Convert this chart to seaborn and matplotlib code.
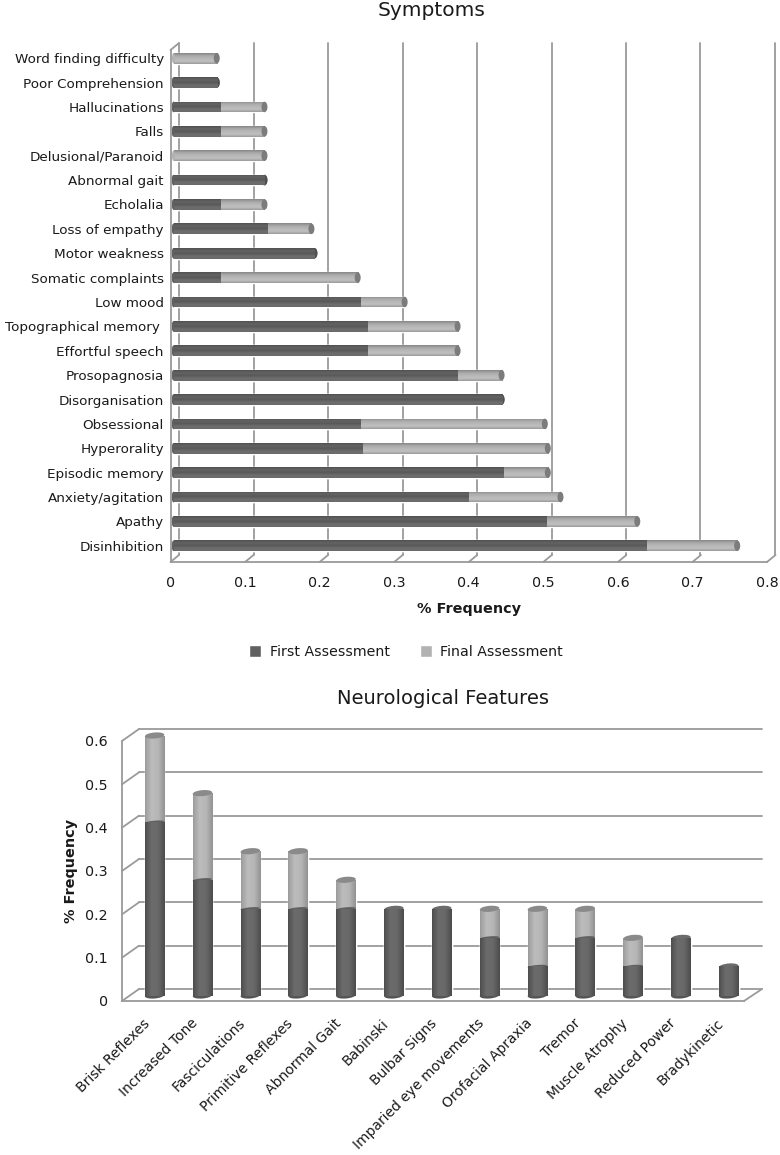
import numpy as np
import pandas as pd
import matplotlib
matplotlib.use("Agg")
import matplotlib.pyplot as plt
import seaborn as sns
from matplotlib.colors import LinearSegmentedColormap
from matplotlib.patches import Ellipse
from matplotlib.transforms import Affine2D, IdentityTransform

# symptoms, top to bottom
symptoms = ["Word finding difficulty", "Poor Comprehension", "Hallucinations", "Falls",
            "Delusional/Paranoid", "Abnormal gait", "Echolalia", "Loss of empathy",
            "Motor weakness", "Somatic complaints", "Low mood", "Topographical memory ",
            "Effortful speech", "Prosopagnosia", "Disorganisation", "Obsessional",
            "Hyperorality", "Episodic memory", "Anxiety/agitation", "Apathy", "Disinhibition"]
symptoms_first = [0, 0.058, 0.0625, 0.0625, 0, 0.122, 0.0625, 0.125, 0.189, 0.0625, 0.25,
                  0.259, 0.259, 0.38, 0.44, 0.25, 0.253, 0.442, 0.395, 0.5, 0.634]
symptoms_total = [0.058, 0.058, 0.122, 0.122, 0.122, 0.122, 0.122, 0.185, 0.189, 0.247, 0.31,
                  0.381, 0.381, 0.44, 0.44, 0.498, 0.502, 0.502, 0.519, 0.622, 0.756]

# neurological features, left to right
features = ["Brisk Reflexes", "Increased Tone", "Fasciculations", "Primitive Reflexes",
            "Abnormal Gait", "Babinski", "Bulbar Signs", "Imparied eye movements",
            "Orofacial Apraxia", "Tremor", "Muscle Atrophy", "Reduced Power", "Bradykinetic"]
features_first = [0.4, 0.267, 0.2, 0.2, 0.2, 0.2, 0.2, 0.133, 0.067, 0.133, 0.067, 0.133, 0.067]
features_total = [0.6, 0.467, 0.333, 0.333, 0.267, 0.2, 0.2, 0.2, 0.2, 0.2, 0.133, 0.133, 0.067]

series_names = ["First Assessment", "Final Assessment"]
symptom_ticks = [0, 0.1, 0.2, 0.3, 0.4, 0.5, 0.6, 0.7, 0.8]
feature_ticks = [0, 0.1, 0.2, 0.3, 0.4, 0.5, 0.6]

W, H = 780, 1155
DARK, LIGHT = "#606060", "#b2b2b2"
LINE = "#9a9a9a"
TEXT = "#1a1a1a"

sns.set_theme(style="white", rc={"axes.facecolor": "none", "figure.facecolor": "white"})
plt.rcParams["font.family"] = ["DejaVu Sans"]

dark_cmap = LinearSegmentedColormap.from_list("dark", ["#6a6a6a", "#6e6e6e", "#585858", "#646464", "#505050"])
light_cmap = LinearSegmentedColormap.from_list("light", ["#9a9a9a", "#c0c0c0", "#b8b8b8", "#aaaaaa", "#868686"])
dark_cyl = LinearSegmentedColormap.from_list("dark_cyl", ["#4e4e4e", "#6c6c6c", "#686868", "#4c4c4c"])
light_cyl = LinearSegmentedColormap.from_list("light_cyl", ["#9c9c9c", "#bcbcbc", "#b6b6b6", "#929292"])

fig = plt.figure(figsize=(W / 100, H / 100), dpi=100)


def px_axes(left, top, right, bottom):
    # axes placed by pixel box of the picture
    ax = fig.add_axes([left / W, 1 - bottom / H, (right - left) / W, (bottom - top) / H])
    ax.patch.set_visible(False)
    return ax


def clean(ax, keep=()):
    for name, spine in ax.spines.items():
        spine.set_visible(name in keep)
        spine.set_color(LINE)
        spine.set_linewidth(1.3)


def cap(ax, x, y, w, h, color, angle=0, z=5):
    xy = ax.transData.transform((x, y))
    ax.add_patch(Ellipse(xy, w, h, angle=angle, color=color, lw=0, zorder=z,
                         transform=IdentityTransform(), clip_on=False))


def shade(ax, patch, cmap, horizontal, z):
    # paint the cylinder shading inside a seaborn bar
    x0, y0 = patch.get_x(), patch.get_y()
    x1, y1 = x0 + patch.get_width(), y0 + patch.get_height()
    grad = np.linspace(0, 1, 64)
    grad = grad.reshape(-1, 1) if horizontal else grad.reshape(1, -1)
    if horizontal:
        # inverted y axis, keep the light band on top
        extent = (x0, x1, max(y0, y1), min(y0, y1))
    else:
        extent = (x0, x1, y0, y1)
    im = ax.imshow(grad, cmap=cmap, aspect="auto", extent=extent,
                   origin="lower" if horizontal else "upper", zorder=z, interpolation="bilinear")
    im.set_clip_path(patch)


# frame lines between front plane and back wall
frame = fig.add_axes([0, 0, 1, 1])
frame.set_xlim(0, W)
frame.set_ylim(H, 0)
frame.axis("off")

# ---------- Symptoms ----------
wall1 = px_axes(179, 43, 775, 555)
wall1.set_xlim(0, 0.8)
wall1.set_xticks(symptom_ticks)
wall1.set_yticks([])
wall1.tick_params(length=0, labelbottom=False)
wall1.grid(axis="x", color=LINE, lw=1.3)
for g in wall1.get_xgridlines():
    g.set_clip_on(False)
clean(wall1)

front1 = px_axes(170.5, 50, 767, 562)
front1.set_xlim(0, 0.8)
front1.set_ylim(21, 0)
front1.set_xticks(symptom_ticks)
front1.set_xticklabels(["0" if v == 0 else f"{v:.1f}" for v in symptom_ticks])
front1.set_yticks(range(22))
front1.set_yticklabels([])
front1.tick_params(axis="both", length=4, width=1.3, color=LINE, labelsize=10.3, labelcolor=TEXT, pad=6)
front1.set_xlabel("% Frequency", fontsize=10.4, fontweight="bold", color=TEXT, labelpad=9)
clean(front1, keep=("left", "bottom"))

for v in symptom_ticks:
    x = 170.5 + v / 0.8 * 596.5
    frame.plot([x, x + 8.5], [562, 555], color=LINE, lw=1.3)
frame.plot([170.5, 179], [50, 43], color=LINE, lw=1.3)

bars1 = px_axes(173.5, 46, 770, 558)
df1 = pd.DataFrame({"symptom": symptoms, "first": symptoms_first, "total": symptoms_total})
sns.barplot(data=df1, y="symptom", x="total", color=LIGHT, width=0.44, ax=bars1,
            label=series_names[1], saturation=1)
n_light = len(bars1.patches)
sns.barplot(data=df1, y="symptom", x="first", color=DARK, width=0.44, ax=bars1,
            label=series_names[0], saturation=1)
handles, labels = bars1.get_legend_handles_labels()
if bars1.get_legend():
    bars1.get_legend().remove()
bars1.set_xlim(0, 0.8)
bars1.set_ylim(20.5, -0.5)
bars1.set_xlabel("")
bars1.set_ylabel("")
bars1.set_xticks([])
bars1.tick_params(axis="y", length=0, labelsize=9.7, labelcolor=TEXT, pad=7)
clean(bars1)

for i, p in enumerate(bars1.patches):
    is_light = i < n_light
    if p.get_width() == 0:
        continue
    shade(bars1, p, light_cmap if is_light else dark_cmap, True, 3 if is_light else 4)
    yc = p.get_y() + p.get_height() / 2
    k = i if is_light else i - n_light
    if is_light:
        cap(bars1, p.get_width(), yc, 6, 10.5, "#7c7c7c", z=3.5)
    elif symptoms_first[k] == symptoms_total[k]:
        cap(bars1, p.get_width(), yc, 6, 10.5, "#505050", z=3.5)
    # rounded start of the bar
    cap(bars1, 0, yc, 3, 10.5, DARK if symptoms_first[k] > 0 else LIGHT, z=3.5)

# ---------- Neurological Features ----------
wall2 = px_axes(139, 729, 762, 989)
wall2.set_ylim(0, 0.6)
wall2.set_yticks(feature_ticks)
wall2.set_xticks([])
wall2.tick_params(length=0, labelleft=False)
wall2.grid(axis="y", color=LINE, lw=1.3)
for g in wall2.get_ygridlines():
    g.set_clip_on(False)
clean(wall2)

front2 = px_axes(122, 741, 744, 1001)
front2.set_xlim(0, 13)
front2.set_ylim(0, 0.6)
front2.set_yticks(feature_ticks)
front2.set_yticklabels(["0" if v == 0 else f"{v:.1f}" for v in feature_ticks])
front2.set_xticks(range(14))
front2.set_xticklabels([])
front2.tick_params(axis="both", length=4, width=1.3, color=LINE, labelsize=10.3, labelcolor=TEXT, pad=6)
front2.set_ylabel("% Frequency", fontsize=10.4, fontweight="bold", color=TEXT, labelpad=5)
clean(front2, keep=("left", "bottom"))

for v in feature_ticks:
    y = 1001 - v / 0.6 * 260
    frame.plot([122, 139], [y, y - 12], color=LINE, lw=1.3)
frame.plot([744, 762], [1001, 989], color=LINE, lw=1.3)

bars2 = px_axes(130.7, 735.5, 752.7, 995.5)
df2 = pd.DataFrame({"feature": features, "first": features_first, "total": features_total})
sns.barplot(data=df2, x="feature", y="total", color=LIGHT, width=0.41, ax=bars2, saturation=1)
n_light2 = len(bars2.patches)
sns.barplot(data=df2, x="feature", y="first", color=DARK, width=0.41, ax=bars2, saturation=1)
bars2.set_xlim(-0.5, 12.5)
bars2.set_ylim(0, 0.6)
bars2.set_xlabel("")
bars2.set_ylabel("")
bars2.set_yticks([])
bars2.set_xticks(range(len(features)))
bars2.set_xticklabels(features, rotation=45, ha="right", rotation_mode="anchor",
                      fontsize=10, color=TEXT)
bars2.tick_params(axis="x", length=0, pad=15)
for t in bars2.get_xticklabels():
    t.set_transform(t.get_transform() + Affine2D().translate(-12, 0))
clean(bars2)

for i, p in enumerate(bars2.patches):
    is_light = i < n_light2
    shade(bars2, p, light_cyl if is_light else dark_cyl, False, 3 if is_light else 4)
    xc = p.get_x() + p.get_width() / 2
    w_px = 19.5
    if is_light:
        same = features_first[i] == features_total[i]
        cap(bars2, xc, p.get_height(), w_px, 6, "#6c6c6c" if same else "#8a8a8a", angle=5, z=3.6)
    else:
        cap(bars2, xc, 0, w_px, 6, "#555555", angle=5, z=3.6)
        if features_first[i - n_light2] < features_total[i - n_light2]:
            # curved seam between the two segments
            cap(bars2, xc, p.get_height(), w_px, 3, DARK, angle=5, z=3.8)

fig.text(432 / W, 1 - 10 / H, "Symptoms", ha="center", va="center", fontsize=14.5, color=TEXT)
fig.text(443 / W, 1 - 699 / H, "Neurological Features", ha="center", va="center", fontsize=14, color=TEXT)

fig.legend(handles[::-1], labels[::-1], loc="center", bbox_to_anchor=(406 / W, 1 - 652 / H),
           ncols=2, frameon=False, fontsize=10.2, labelcolor=TEXT, handlelength=0.85, handleheight=0.85,
           handletextpad=0.6, columnspacing=2.1, borderpad=0)

fig.savefig("out.png", dpi=100)
